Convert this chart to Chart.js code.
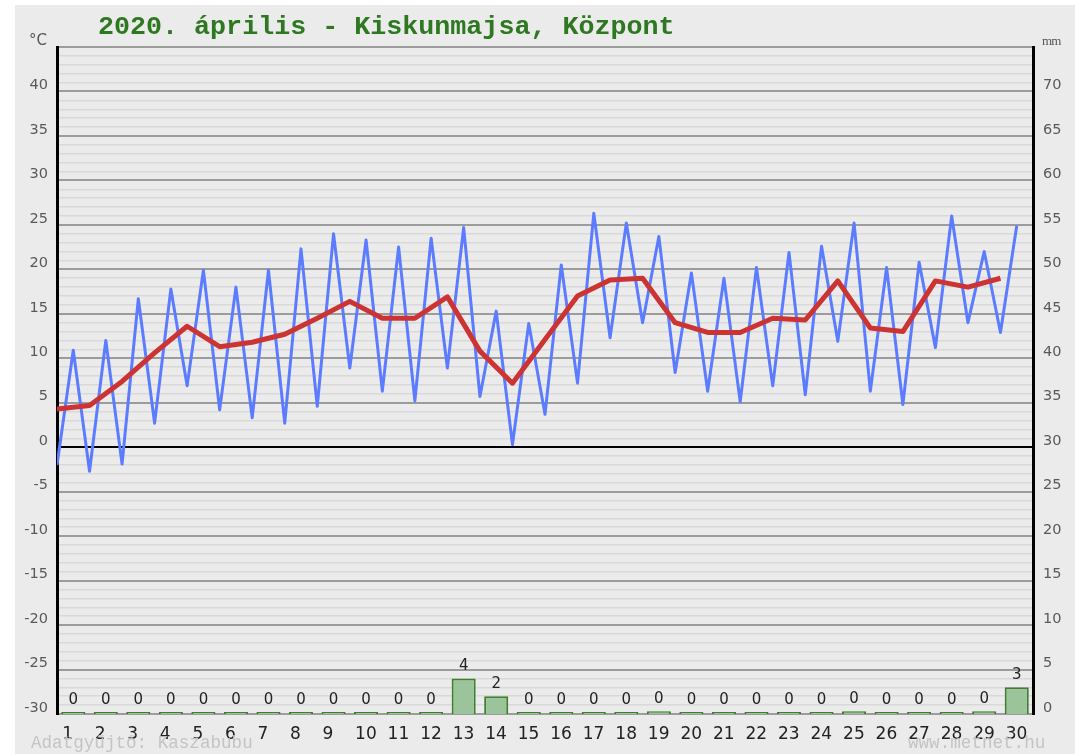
<!DOCTYPE html>
<html lang="hu">
<head>
<meta charset="utf-8">
<title>2020. április - Kiskunmajsa, Központ</title>
<script src="https://cdn.jsdelivr.net/npm/chart.js@4"></script>
<style>
    body { margin: 0; background: #fff; }
    #wrap { position: relative; width: 1075px; height: 754px; overflow: hidden; }
    #bg { position: absolute; left: 15px; top: 5px; right: 0; bottom: 0; background: #ebebeb; }
    #chart { position: absolute; left: 0; top: 0; }
    .txt { position: absolute; white-space: pre; }
    #title { left: 98px; top: 12px; font: bold 26.7px "Liberation Mono", monospace; color: #2d7820; line-height: 30px; }
    #unitC { left: 29px; top: 31px; font: 15px "DejaVu Sans", sans-serif; color: #555; }
    #unitMm { left: 1042px; top: 33px; font: 13px "Liberation Serif", serif; color: #555; letter-spacing: -0.8px; }
    #credit { left: 31px; top: 733px; font: 17.6px "Liberation Mono", monospace; color: #c4c4c4; }
    #site { left: 908px; top: 733px; font: 17.6px "Liberation Mono", monospace; color: #c4c4c4; }
</style>
</head>
<body>
<div id="wrap">
    <div id="bg"></div>
    <canvas id="chart" width="1075" height="754"></canvas>
    <div class="txt" id="title">2020. április - Kiskunmajsa, Központ</div>
    <div class="txt" id="unitC">°C</div>
    <div class="txt" id="unitMm">mm</div>
    <div class="txt" id="credit">Adatgyűjtő: Kaszabubu</div>
    <div class="txt" id="site">www.metnet.hu</div>
</div>

<script>
// napok
const days = [1, 2, 3, 4, 5, 6, 7, 8, 9, 10, 11, 12, 13, 14, 15,
              16, 17, 18, 19, 20, 21, 22, 23, 24, 25, 26, 27, 28, 29, 30];

// minimum hőmérséklet (°C)
const tempMin = [-2.0, -2.7, -1.9, 2.7, 6.9, 4.2, 3.3, 2.7, 4.6, 8.9,
                 6.3, 5.2, 8.9, 5.7, 0.3, 3.7, 7.2, 12.3, 14.0, 8.4,
                 6.3, 5.1, 6.9, 5.9, 11.9, 6.3, 4.8, 11.2, 14.0, 12.9];

// maximum hőmérséklet (°C)
const tempMax = [10.9, 12.0, 16.7, 17.8, 19.9, 18.0, 19.9, 22.3, 24.0, 23.3,
                 22.5, 23.5, 24.7, 15.3, 13.9, 20.5, 26.3, 25.2, 23.7, 19.6,
                 19.0, 20.2, 21.9, 22.6, 25.2, 20.2, 20.8, 26.0, 22.0, 24.9];

// napi középhőmérséklet (°C)
const tempMean = [4.3, 4.7, 7.4, 10.6, 13.6, 11.3, 11.8, 12.7, 14.5, 16.4,
                  14.5, 14.5, 16.9, 10.8, 7.2, 12.1, 17.0, 18.8, 19.0, 14.0,
                  12.9, 12.9, 14.5, 14.3, 18.7, 13.4, 13.0, 18.7, 18.0, 19.0];

// csapadék (mm)
const precip = [0, 0, 0, 0, 0, 0, 0, 0, 0, 0,
                0, 0, 4, 2, 0, 0, 0, 0, 0.3, 0,
                0, 0, 0, 0, 0.3, 0, 0, 0, 0.3, 3];

// tengely feliratok
const tempTicks = [-30, -25, -20, -15, -10, -5, 0, 5, 10, 15, 20, 25, 30, 35, 40];
const mmTicks = [0, 5, 10, 15, 20, 25, 30, 35, 40, 45, 50, 55, 60, 65, 70];


document.addEventListener("DOMContentLoaded", () => {

    /* ===============================
       adatsorok
    =============================== */

    const minMaxPoints = [];
    days.forEach((d, i) => {
        minMaxPoints.push({ x: d - 0.5, y: tempMin[i] });
        minMaxPoints.push({ x: d, y: tempMax[i] });
    });

    const meanPoints = days.map((d, i) => ({ x: d - 0.5, y: tempMean[i] }));
    const rainPoints = days.map((d, i) => ({ x: d, y: precip[i] }));


    /* ===============================
       csapadék értékek az oszlopok felett
    =============================== */

    const barLabels = {
        id: "barLabels",
        afterDatasetsDraw(chart) {
            const ctx = chart.ctx;
            const meta = chart.getDatasetMeta(2);
            ctx.save();
            ctx.font = '15px "DejaVu Sans", sans-serif';
            ctx.fillStyle = "#222";
            ctx.textAlign = "center";
            ctx.textBaseline = "middle";
            meta.data.forEach((bar, i) => {
                ctx.fillText(String(Math.round(precip[i])), bar.x, bar.y - 12);
            });
            ctx.restore();
        }
    };


    /* ===============================
       grafikon
    =============================== */

    const ctx = document.getElementById("chart").getContext("2d");

    new Chart(ctx, {

        type: "bar",

        data: {
            datasets: [
                {
                    type: "line",
                    label: "min/max",
                    data: minMaxPoints,
                    borderColor: "#5b7cff",
                    borderWidth: 3,
                    borderJoinStyle: "round",
                    pointRadius: 0,
                    tension: 0,
                    yAxisID: "y",
                    order: 1
                },
                {
                    type: "line",
                    label: "átlag",
                    data: meanPoints,
                    borderColor: "#cc3434",
                    borderWidth: 5,
                    borderJoinStyle: "round",
                    pointRadius: 0,
                    tension: 0,
                    yAxisID: "y",
                    order: 0
                },
                {
                    type: "bar",
                    label: "csapadék",
                    data: rainPoints,
                    backgroundColor: "#9cc49a",
                    borderColor: "#3e7e2e",
                    borderWidth: 2,
                    minBarLength: 2,
                    barPercentage: 0.74,
                    categoryPercentage: 1,
                    yAxisID: "y1",
                    order: 2
                }
            ]
        },

        options: {
            responsive: false,
            animation: false,
            layout: { padding: { top: 47, left: 0, right: 0, bottom: 0 } },
            plugins: {
                legend: { display: false },
                tooltip: { enabled: false }
            },
            scales: {
                x: {
                    type: "linear",
                    min: 0.5,
                    max: 30.5,
                    offset: false,
                    grid: { display: false, offset: false },
                    border: { display: false },
                    afterBuildTicks: scale => {
                        scale.ticks = days.map(d => ({ value: d }));
                    },
                    afterFit: scale => { scale.height = 40; },
                    ticks: {
                        autoSkip: false,
                        maxRotation: 0,
                        align: "start",
                        labelOffset: -11,
                        padding: 2,
                        color: "#222",
                        font: { family: "DejaVu Sans", size: 17 },
                        callback: v => String(v)
                    }
                },
                y: {
                    position: "left",
                    min: -30,
                    max: 45,
                    afterFit: scale => { scale.width = 57; },
                    afterBuildTicks: scale => {
                        const t = [];
                        for (let v = -30; v <= 45; v++) t.push({ value: v });
                        scale.ticks = t;
                    },
                    border: { display: true, color: "#000", width: 3 },
                    grid: {
                        drawTicks: false,
                        color: c => {
                            const v = c.tick.value;
                            if (v === 0) return "#000";
                            return v % 5 === 0 ? "#9c9c9c" : "#d9d9d9";
                        },
                        lineWidth: c => (c.tick.value % 5 === 0 ? 2 : 1.5)
                    },
                    ticks: {
                        autoSkip: false,
                        padding: 9,
                        color: "#595959",
                        font: { family: "DejaVu Sans", size: 14.5, lineHeight: "12px" },
                        callback: v => (tempTicks.includes(v) ? [String(v), ""] : "")
                    }
                },
                y1: {
                    position: "right",
                    min: 0,
                    max: 75,
                    afterFit: scale => { scale.width = 42; },
                    afterBuildTicks: scale => {
                        scale.ticks = mmTicks.map(v => ({ value: v }));
                    },
                    border: { display: true, color: "#000", width: 3 },
                    grid: { display: false, drawTicks: false },
                    ticks: {
                        autoSkip: false,
                        padding: 10,
                        color: "#595959",
                        font: { family: "DejaVu Sans", size: 14.5, lineHeight: "12px" },
                        callback: v => [String(v), ""]
                    }
                }
            }
        },

        plugins: [barLabels]

    });

});
</script>
</body>
</html>
